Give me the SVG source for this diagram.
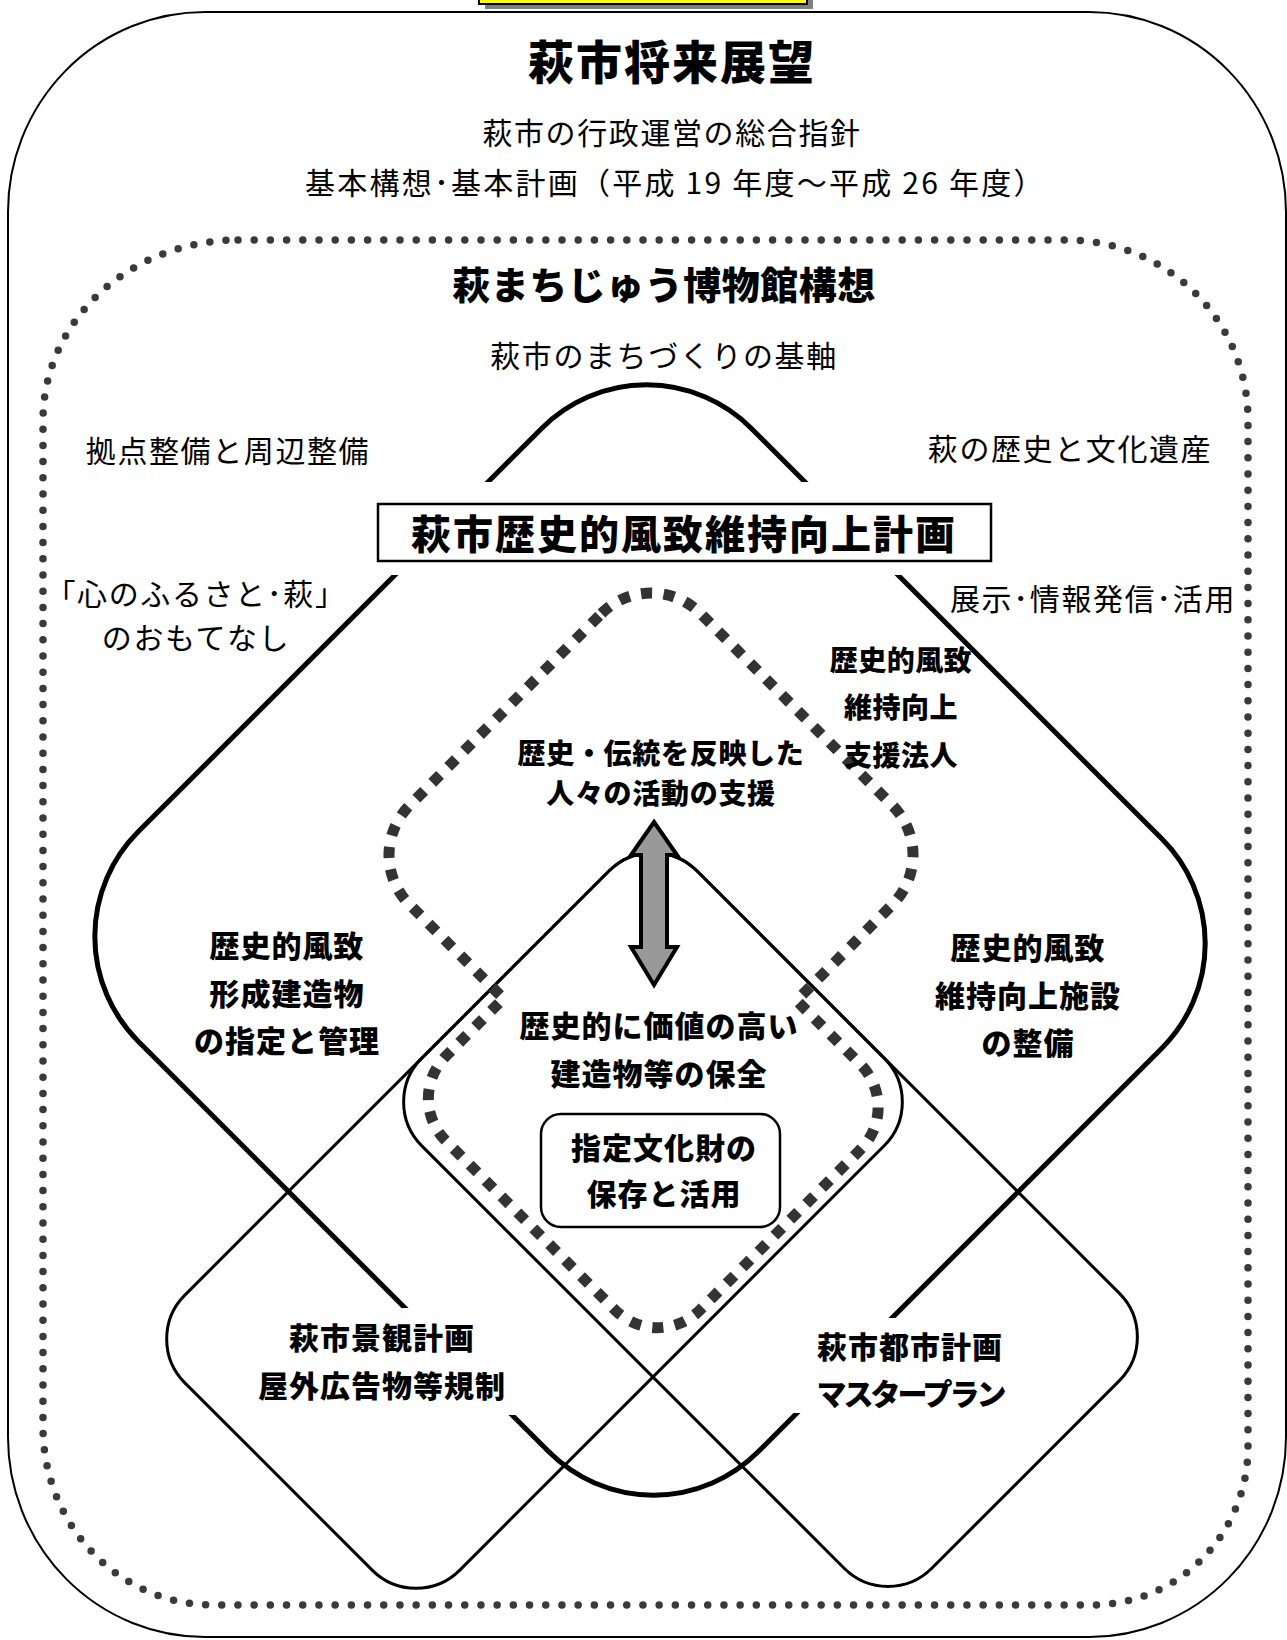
<svg xmlns="http://www.w3.org/2000/svg" width="1287" height="1640" viewBox="0 0 1287 1640">
<defs>
<style>
.r{font-family:"Noto Sans CJK JP","Noto Sans CJK SC",sans-serif;font-size:30px;letter-spacing:1.6px;fill:#000;text-anchor:middle}
.b{font-family:"Noto Sans CJK JP","Noto Sans CJK SC",sans-serif;font-weight:900;font-size:30px;letter-spacing:1px;fill:#000;text-anchor:middle}
.thick{fill:none;stroke:#000;stroke-width:5}
.thin{fill:none;stroke:#000;stroke-width:3}
.mask{fill:#fff}
.dots{fill:none;stroke:#3a3a3a;stroke-width:7.5;stroke-linecap:round;stroke-dasharray:0 16.2}
.sq{fill:none;stroke:#333;stroke-width:11;stroke-dasharray:11 11.5}
</style>
</defs>
<rect width="1287" height="1640" fill="#fff"/>
<g id="tab">
<rect x="485" y="-20" width="328" height="29" fill="#808080"/>
<rect x="479" y="-20" width="328" height="24" fill="#ffff00" stroke="#000" stroke-width="2"/>
</g>
<g id="vision">
<rect x="8" y="12" width="1278" height="1625" rx="197" ry="200" fill="none" stroke="#000" stroke-width="2"/>
<text class="b" x="672" y="79" style="font-size:46px;letter-spacing:2px">萩市将来展望</text>
<text class="r" x="672" y="144">萩市の行政運営の総合指針</text>
<text class="r" x="675" y="194" textLength="740" lengthAdjust="spacing">基本構想･基本計画（平成 19 年度～平成 26 年度）</text>
</g>
<g id="museum">
<path class="dots" d="M238 240 L1067 240 A181 180 0 0 1 1248 420 L1248 1447 A156 158 0 0 1 1092 1605 L213 1605 A170 178 0 0 1 43 1427 L43 420 A195 180 0 0 1 238 240 Z"/>
<text class="b" x="664" y="299" style="font-size:38px;letter-spacing:0.5px">萩まちじゅう博物館構想</text>
<text class="r" x="664" y="367">萩市のまちづくりの基軸</text>
<text class="r" x="228" y="462">拠点整備と周辺整備</text>
<text class="r" x="1070" y="460">萩の歴史と文化遺産</text>
<text class="r" x="196" y="605">「心のふるさと･萩」</text>
<text class="r" x="196" y="649">のおもてなし</text>
<text class="r" x="1093" y="610">展示･情報発信･活用</text>
</g>
<g id="plan">
<rect class="thick" x="685.9" y="-228.4" width="876.8" height="866.9" rx="148" transform="rotate(45)"/>
</g>
<g id="landscape">
<rect class="thin" x="1046.5" y="123" width="388.9" height="724.1" rx="62" transform="rotate(45)"/>
</g>
<g id="cityplan">
<rect class="thin" x="1046.5" y="123" width="721.3" height="389" rx="62" transform="rotate(45)"/>
</g>
<g id="masks">
<rect class="mask" x="374" y="482" width="621" height="93"/>
<rect class="mask" x="250" y="1308" width="270" height="107"/>
<rect class="mask" x="790" y="1318" width="220" height="95"/>
</g>
<g id="plan-title">
<rect x="378" y="504" width="613" height="57" fill="#fff" stroke="#000" stroke-width="2.5"/>
<text class="b" x="684" y="549" style="font-size:40px;letter-spacing:2px">萩市歴史的風致維持向上計画</text>
</g>
<g id="bunkazai">
<rect x="541" y="1114" width="239" height="113" rx="20" fill="#fff" stroke="#000" stroke-width="2.5"/>
<text class="b" x="664" y="1159">指定文化財の</text>
<text class="b" x="664" y="1205">保存と活用</text>
</g>
<g id="activity">
<path class="sq" d="M601.5 613.5 A70 70 0 0 1 700.5 613.5 L892.5 805.5 A70 70 0 0 1 892.5 904.5 L796.5 1000.5 L860.6 1064.6 A60 60 0 0 1 860.6 1149.4 L699.9 1310.1 A60 60 0 0 1 615.1 1310.1 L445.9 1140.9 A60 60 0 0 1 445.9 1056.1 L503.5 998.5 L409.5 904.5 A70 70 0 0 1 409.5 805.5 Z"/>
<text class="b" x="661" y="764" style="font-size:28px;letter-spacing:0.7px">歴史・伝統を反映した</text>
<text class="b" x="661" y="804" style="font-size:28px;letter-spacing:0.7px">人々の活動の支援</text>
</g>
<g id="labels">
<text class="b" x="901" y="671" style="font-size:28px;letter-spacing:0.5px">歴史的風致</text>
<text class="b" x="901" y="718" style="font-size:28px;letter-spacing:0.5px">維持向上</text>
<text class="b" x="901" y="766" style="font-size:28px;letter-spacing:0.5px">支援法人</text>
<text class="b" x="287" y="957">歴史的風致</text>
<text class="b" x="287" y="1005">形成建造物</text>
<text class="b" x="287" y="1052">の指定と管理</text>
<text class="b" x="1028" y="959">歴史的風致</text>
<text class="b" x="1028" y="1007">維持向上施設</text>
<text class="b" x="1028" y="1054">の整備</text>
<text class="b" x="659" y="1037">歴史的に価値の高い</text>
<text class="b" x="659" y="1085">建造物等の保全</text>
<text class="b" x="382" y="1349">萩市景観計画</text>
<text class="b" x="382" y="1397">屋外広告物等規制</text>
<text class="b" x="910" y="1358">萩市都市計画</text>
<text class="b" x="910" y="1405" style="letter-spacing:-3px">マスタープラン</text>
</g>
<g id="connectors">
<polygon points="654,822 677,855 667,855 667,947 677,947 654,985 631,947 641,947 641,855 631,855" fill="#999" stroke="#000" stroke-width="4" stroke-linejoin="miter"/>
</g>
</svg>
